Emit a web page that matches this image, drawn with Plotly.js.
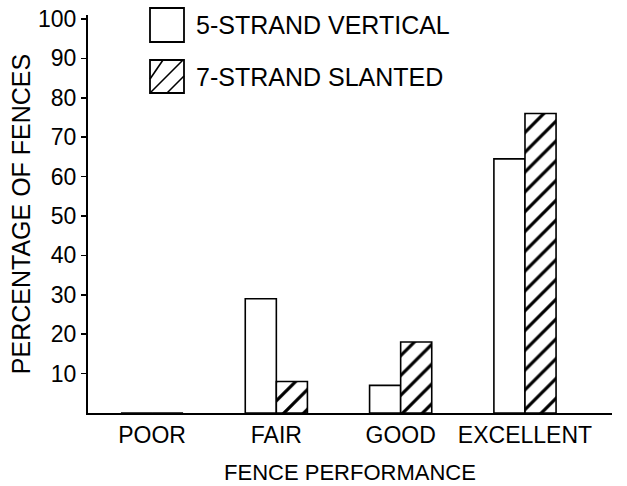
<!DOCTYPE html>
<html>
<head>
<meta charset="utf-8">
<script src="https://cdn.plot.ly/plotly-3.0.1.min.js"></script>
<style>html,body{margin:0;padding:0;background:#fff;}#chart{width:627px;height:486px;}</style>
</head>
<body>
<div id="chart"></div>
<script>
// ---- data ----
var categories = ["POOR", "FAIR", "GOOD", "EXCELLENT"];
var verticalValues = [0, 29, 7, 64.5];
var slantedValues = [0, 8, 18, 76];
var seriesNames = ["5-STRAND VERTICAL", "7-STRAND SLANTED"];
var yTickValues = [10, 20, 30, 40, 50, 60, 70, 80, 90, 100];
var xTitle = "FENCE PERFORMANCE";
var yTitle = "PERCENTAGE OF FENCES";

// ---- layout geometry helpers (pixels -> paper) ----
var W = 627, H = 486;
var M = {l: 88, r: 15, t: 15, b: 73};
var PW = W - M.l - M.r, PH = H - M.t - M.b;
function px(x) { return (x - M.l) / PW; }
function py(y) { return (H - M.b - y) / PH; }

var FONT = "Liberation Sans, Arial, sans-serif";

var traces = [
  {
    type: "bar", name: seriesNames[0], x: categories, y: verticalValues,
    marker: {color: "white", line: {color: "black", width: 1.6}},
    showlegend: false, hoverinfo: "x+y"
  },
  {
    type: "bar", name: seriesNames[1], x: categories, y: slantedValues,
    marker: {color: "white", line: {color: "black", width: 1.6},
      pattern: {shape: "/", fgcolor: "black", fgopacity: 1, bgcolor: "white", size: 14, solidity: 0.23, fillmode: "overlay"}},
    showlegend: false, hoverinfo: "x+y"
  }
];

// legend drawn as decoration
var shapes = [
  {type: "rect", xref: "paper", yref: "paper", x0: px(150), x1: px(184), y0: py(42), y1: py(8),
   line: {color: "black", width: 1.8}, fillcolor: "white"},
  {type: "rect", xref: "paper", yref: "paper", x0: px(150), x1: px(184), y0: py(93), y1: py(60),
   line: {color: "black", width: 1.8}, fillcolor: "white"}
];
// hatch lines inside second legend box
[[150, 79, 163, 60], [150, 93, 183, 60], [167, 93, 184, 76]].forEach(function (s) {
  shapes.push({type: "line", xref: "paper", yref: "paper", x0: px(s[0]), y0: py(s[1]), x1: px(s[2]), y1: py(s[3]),
    line: {color: "black", width: 1.6}});
});

var annotations = [
  {xref: "paper", yref: "paper", x: px(194), y: py(25), xanchor: "left", yanchor: "middle",
   text: seriesNames[0], showarrow: false, font: {family: FONT, size: 25, color: "black"}},
  {xref: "paper", yref: "paper", x: px(194), y: py(77), xanchor: "left", yanchor: "middle",
   text: seriesNames[1], showarrow: false, font: {family: FONT, size: 25, color: "black"}}
];

var layout = {
  width: W, height: H,
  margin: M,
  paper_bgcolor: "white", plot_bgcolor: "white",
  font: {family: FONT, color: "black", size: 22},
  barmode: "group", bargap: 0.5, bargroupgap: 0,
  showlegend: false,
  xaxis: {
    type: "category", range: [-0.515, 3.7],
    showline: true, linecolor: "black", linewidth: 2,
    ticks: "", showgrid: false, zeroline: false,
    tickfont: {family: FONT, size: 23, color: "black"},
    title: {text: xTitle, font: {family: FONT, size: 22, color: "black"}, standoff: 18},
    automargin: false
  },
  yaxis: {
    range: [0, 101],
    tickvals: yTickValues, ticktext: yTickValues.map(String),
    showline: true, linecolor: "black", linewidth: 2,
    ticks: "outside", ticklen: 5, tickwidth: 1.6, tickcolor: "black",
    showgrid: false, zeroline: false,
    tickfont: {family: FONT, size: 23, color: "black"},
    title: {text: yTitle, font: {family: FONT, size: 25, color: "black"}, standoff: 0},
    automargin: false
  },
  shapes: shapes,
  annotations: annotations
};

Plotly.newPlot("chart", traces, layout, {displayModeBar: false, staticPlot: true});
</script>
</body>
</html>
